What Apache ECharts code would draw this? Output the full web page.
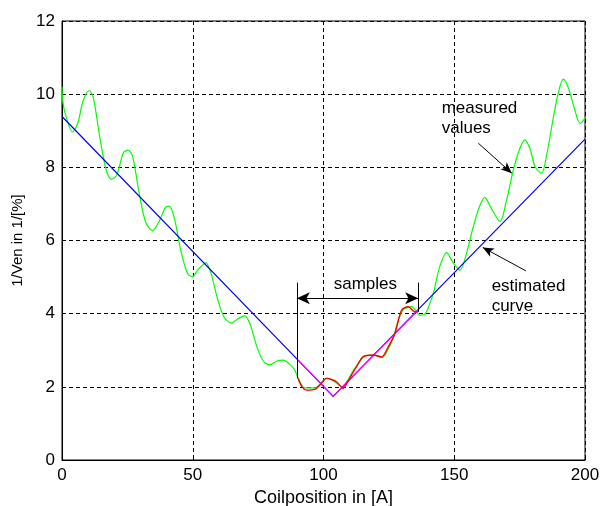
<!DOCTYPE html>
<html>
<head>
<meta charset="utf-8">
<script src="https://cdn.jsdelivr.net/npm/echarts@6/dist/echarts.min.js"></script>
<style>
  html, body { margin: 0; padding: 0; background: #fff; }
  #chart { width: 600px; height: 506px; }
</style>
</head>
<body>
<div id="chart"></div>
<script>
const measured = [
  [0, 10.2], [0.3, 9.8], [1.5, 9.4], [4, 8.97], [6, 9.2], [8, 9.8], [10.4, 10.1], [12, 9.9],
  [14.5, 8.8], [17, 7.9], [18.9, 7.67], [21, 7.8], [23.5, 8.4], [25.3, 8.47],
  [27, 8.3], [29.5, 7.3], [32, 6.5], [34.6, 6.27], [37, 6.5], [39.5, 6.9],
  [41, 6.94], [43, 6.6], [45.5, 5.7], [48, 5.1], [49.9, 5.01], [52, 5.2],
  [55, 5.39], [57, 5.1], [59.5, 4.4], [62, 3.9], [64.8, 3.74], [67, 3.85],
  [69.9, 3.94], [72, 3.7], [74.5, 3.1], [77, 2.7], [79.5, 2.6], [82, 2.7],
  [84.6, 2.73], [87, 2.62], [89, 2.46], [90.3, 2.24], [92.9, 1.97], [96.7, 1.97],
  [99, 2.1], [101.2, 2.24], [103, 2.2], [105, 2.1], [107, 2.0], [109, 2.15],
  [111, 2.4], [113, 2.6], [115.5, 2.85], [119, 2.87], [122.5, 2.8], [124.5, 3.0],
  [126.5, 3.3], [128.5, 3.8], [130.4, 4.1], [133.7, 4.19], [136.9, 3.96],
  [138.5, 3.97], [140, 4.15], [142, 4.56], [144.5, 5.3], [147.1, 5.67],
  [149.5, 5.4], [152.2, 5.19], [154.5, 5.6], [157, 6.3], [159.5, 6.9],
  [161.7, 7.18], [164, 6.9], [167.5, 6.52], [170, 7.1], [172.5, 7.9], [175, 8.5],
  [177, 8.75], [179, 8.5], [181, 8.0], [183.4, 7.84], [185.5, 8.4], [188, 9.4],
  [190, 10.1], [191.7, 10.41], [193.5, 10.2], [196, 9.6], [198.1, 9.2], [200, 9.34]
];
// estimated curve (blue)
const estimated = [[0, 9.39], [103.7, 1.74], [200, 8.77]];
// estimated curve over the sample range (magenta)
const estimatedSamples = [[90.3, 2.73], [103.7, 1.74], [136.2, 4.1]];
// samples (red)
const samples = [
  [90.3, 2.23], [91.8, 2.0], [93.5, 1.91], [96.7, 1.93], [99, 2.08], [101.2, 2.23],
  [103, 2.2], [105, 2.14], [107.5, 1.96], [109, 2.1], [110.7, 2.32], [113, 2.6],
  [115.2, 2.82], [119, 2.87], [122.2, 2.82], [124.8, 3.1], [127.3, 3.46],
  [129.9, 4.1], [132.4, 4.19], [135, 4.05], [136.1, 4.05]
];
const xTicks = [0, 50, 100, 150, 200];
const yTicks = [0, 2, 4, 6, 8, 10, 12];

const font = "'Liberation Sans', Arial, sans-serif";
let myChart = echarts.init(document.getElementById("chart"));

const lineSeries = (data, color, smooth, width) => ({
  type: "line",
  data: data,
  showSymbol: false,
  smooth: smooth,
  lineStyle: { color: color, width: width },
  itemStyle: { color: color },
  animation: false,
  silent: true,
});

const arrowStyle = { color: "#000", width: 1, type: "solid" };

myChart.setOption({
  animation: false,
  grid: {
    left: 62, right: 15, top: 21, bottom: 46,
    outerBoundsMode: "none",
    containLabel: false,
    show: true, borderColor: "#000", borderWidth: 1,
  },
  xAxis: {
    type: "value",
    min: xTicks[0], max: xTicks[xTicks.length - 1], interval: 50,
    name: "Coilposition in [A]",
    nameLocation: "middle", nameGap: 29,
    nameTextStyle: { fontFamily: font, fontSize: 18, color: "#000" },
    axisLine: { lineStyle: { color: "#000" } },
    axisTick: { inside: true, length: 4, lineStyle: { color: "#000" } },
    axisLabel: { fontFamily: font, fontSize: 17, color: "#000", margin: 7 },
    splitLine: { show: true, lineStyle: { color: "#000", type: [4, 3], width: 1 } },
  },
  yAxis: {
    type: "value",
    min: yTicks[0], max: yTicks[yTicks.length - 1], interval: 2,
    name: "1/Ven in 1/[%]",
    nameLocation: "middle", nameGap: 36,
    nameTextStyle: { fontFamily: font, fontSize: 15, color: "#000" },
    axisLine: { lineStyle: { color: "#000" } },
    axisTick: { inside: true, length: 4, lineStyle: { color: "#000" } },
    axisLabel: { fontFamily: font, fontSize: 17, color: "#000", margin: 7 },
    splitLine: { show: true, lineStyle: { color: "#000", type: [4, 3], width: 1 } },
  },
  series: [
    lineSeries(measured, "#00ff00", 0.3, 1.2),
    lineSeries(estimated, "#0000ff", false, 1.2),
    lineSeries(estimatedSamples, "#ff00ff", false, 1.2),
    lineSeries(samples, "#ff0000", 0.3, 1.4),
    {
      type: "line",
      data: [],
      silent: true,
      markLine: {
        silent: true,
        animation: false,
        label: { show: false },
        lineStyle: arrowStyle,
        data: [
          // samples span
          [{ coord: [89.8, 4.42], symbol: "arrow", symbolSize: [9, 13] },
           { coord: [136.2, 4.42], symbol: "arrow", symbolSize: [9, 13] }],
          [{ coord: [89.8, 4.85], symbol: "none" }, { coord: [89.8, 2.23], symbol: "none" }],
          [{ coord: [136.2, 4.85], symbol: "none" }, { coord: [136.2, 4.05], symbol: "none" }],
          // measured values pointer
          [{ coord: [159.2, 8.66], symbol: "none" }, { coord: [172.0, 7.84], symbol: "arrow", symbolSize: [7, 11] }],
          // estimated curve pointer
          [{ coord: [177.4, 5.17], symbol: "none" }, { coord: [160.9, 5.81], symbol: "arrow", symbolSize: [7, 11] }],
        ],
      },
    },
  ],
});

// annotation texts placed in data coordinates
const at = (x, y) => myChart.convertToPixel({ gridIndex: 0 }, [x, y]);
const txt = (pos, text, align) => ({
  type: "text",
  x: pos[0], y: pos[1],
  silent: true,
  style: {
    text: text, fill: "#000", font: "17px " + font,
    align: align, verticalAlign: "middle", lineHeight: 20,
  },
});
myChart.setOption({
  graphic: [
    txt(at(116, 4.8), "samples", "center"),
    txt(at(145.2, 9.35), "measured\nvalues", "left"),
    txt(at(164.3, 4.48), "estimated\ncurve", "left"),
  ],
});
</script>
</body>
</html>
